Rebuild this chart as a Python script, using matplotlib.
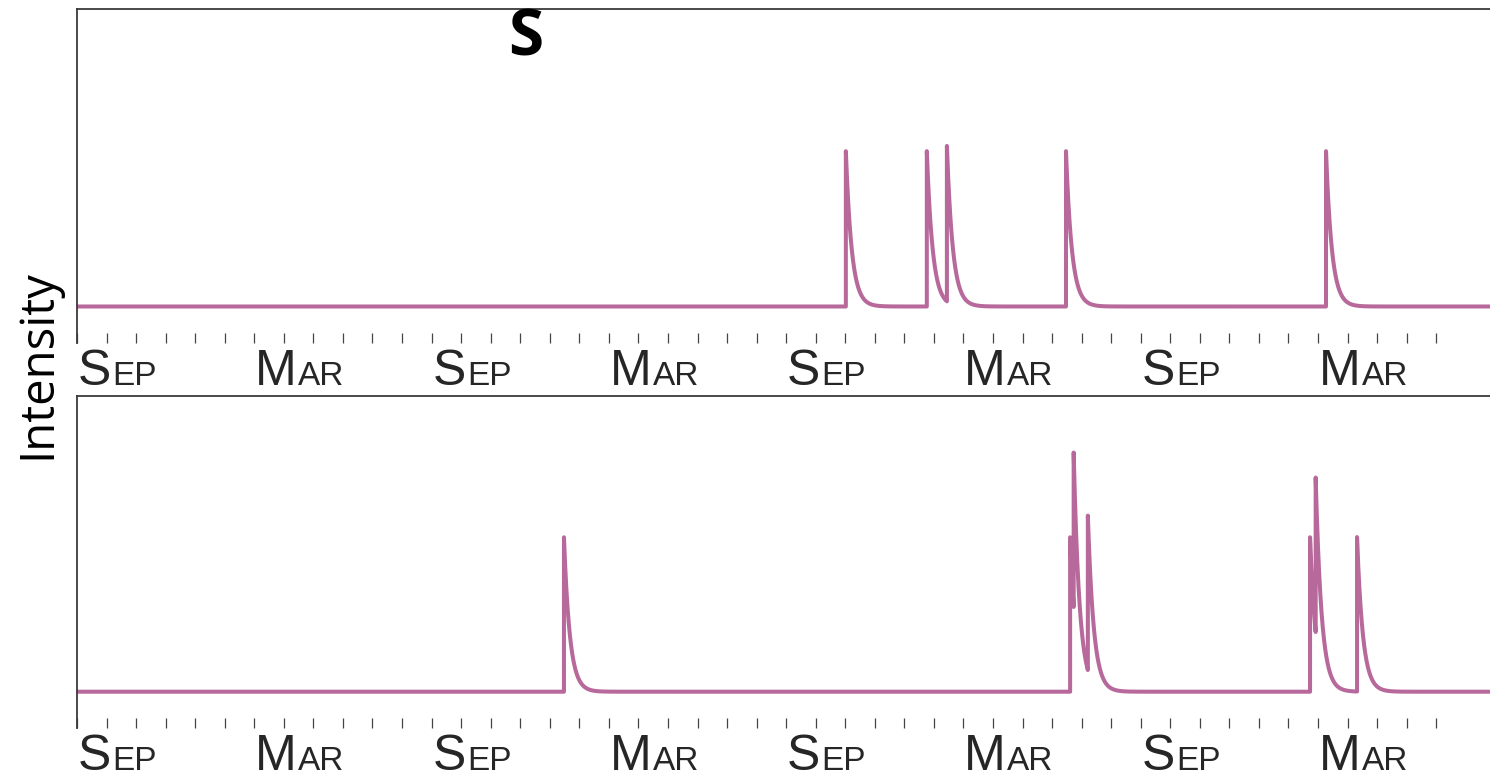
import numpy as np
import matplotlib
matplotlib.use("Agg")
import matplotlib.pyplot as plt

# Event times (months since the first September) and jump sizes for each panel
top_events = [26.02, 28.76, 29.44, 33.47, 42.27]
top_jumps = [1.0, 1.0, 1.0, 1.0, 1.0]
bottom_events = [16.48, 33.61, 33.73, 34.21, 41.73, 41.92, 43.32]
bottom_jumps = [1.0, 1.0, 1.0, 1.0, 1.0, 1.0, 1.0]
decay_months = 0.2

month_ticks = list(range(0, 47))
label_months = [0, 6, 12, 18, 24, 30, 36, 42]
label_big = ["S", "M", "S", "M", "S", "M", "S", "M"]
label_small = ["EP", "AR", "EP", "AR", "EP", "AR", "EP", "AR"]

x_max = 47.82
line_color = "#b8699b"
spine_color = "#3a3a3a"


def intensity_curve(events, jumps, t_end, tau, step=0.004):
    grid = np.arange(0.0, t_end + step, step)
    ev = np.asarray(events)
    jp = np.asarray(jumps)

    def value(t, include_self=True):
        mask = (ev < t) | ((ev == t) & include_self)
        return float(np.sum(jp[mask] * np.exp(-(t - ev[mask]) / tau)))

    ts, ys = [], []
    pts = sorted(set(grid.tolist()) | set(ev.tolist()))
    for t in pts:
        if t in events:
            ts.append(t)
            ys.append(value(t, include_self=False))
        ts.append(t)
        ys.append(value(t))
    return np.array(ts), np.array(ys)


fig = plt.figure(figsize=(14.9, 7.74), dpi=100)
W, H = 1490, 774
ax_top = fig.add_axes([77 / W, 1 - 343 / H, 1 - 77 / W, (343 - 9) / H])
ax_bot = fig.add_axes([77 / W, 1 - 728 / H, 1 - 77 / W, (728 - 396) / H])

panels = [(ax_top, top_events, top_jumps), (ax_bot, bottom_events, bottom_jumps)]
for ax, ev, jp in panels:
    t, y = intensity_curve(ev, jp, x_max, decay_months)
    ax.plot(t, y, color=line_color, lw=2.9, solid_capstyle="round",
            solid_joinstyle="round")
    ax.set_xlim(0, x_max)
    ax.set_ylim(-0.235, 1.915)
    ax.spines["right"].set_visible(False)
    ax.spines["bottom"].set_visible(False)
    for s in ("left", "top"):
        ax.spines[s].set_color(spine_color)
        ax.spines[s].set_linewidth(1.3)
    ax.set_yticks([])
    ax.set_xticks(month_ticks)
    ax.set_xticklabels([])
    ax.tick_params(axis="x", direction="in", length=7.5, width=0.9,
                   color="#444444", pad=0)

    # Small-caps month labels: a large initial followed by smaller letters
    xform = ax.get_xaxis_transform()
    for m, big, small in zip(label_months, label_big, label_small):
        t_big = ax.annotate(big, xy=(m, 0), xycoords=xform,
                            xytext=(0.6, -30.0), textcoords="offset points",
                            ha="left", va="baseline", fontsize=36,
                            family="Liberation Sans", color="#262626",
                            annotation_clip=False)
        ax.annotate(small, xy=(1, 0), xycoords=(t_big, xform),
                    xytext=(1.0, -30.0), textcoords="offset points",
                    ha="left", va="baseline", fontsize=24,
                    family="Liberation Sans", color="#262626",
                    annotation_clip=False)

fig.text(526 / W, 1 - 56 / H, "S", ha="center", va="baseline",
         fontsize=46, fontweight="bold", family="Open Sans", color="black")
fig.text(50 / W, 1 - 364 / H, "Intensity", rotation=90,
         rotation_mode="anchor", ha="center", va="baseline",
         fontsize=34, family="Open Sans", color="black")

fig.savefig("out.png", dpi=100)
